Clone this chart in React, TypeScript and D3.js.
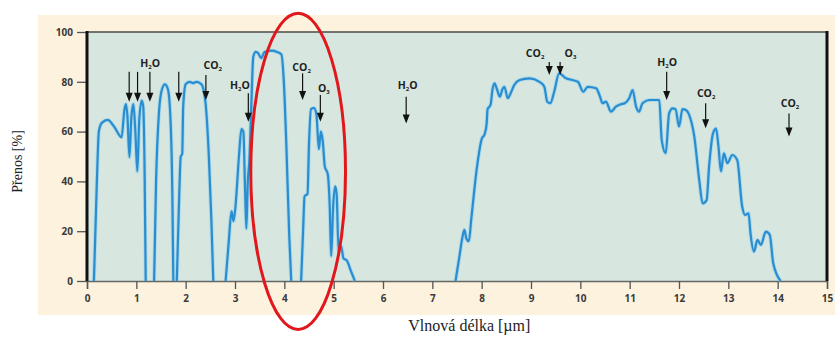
import React, { useEffect, useRef } from "react";
import * as d3 from "d3";

// transmission bands [wavelength um, transmission %]
const band1 = [
  [0.14, 0], [0.2, 40], [0.24, 60], [0.3, 63.5], [0.42, 64.7], [0.55, 62], [0.7, 57.7],
  [0.76, 69], [0.79, 71], [0.82, 66], [0.86, 49.7], [0.9, 66], [0.94, 71], [0.98, 60],
  [1.02, 44], [1.06, 65], [1.11, 72.5], [1.14, 70], [1.17, 40], [1.19, 0],
];
const band2 = [
  [1.36, 0], [1.4, 40], [1.46, 68], [1.52, 77], [1.58, 79], [1.64, 77], [1.69, 66],
  [1.73, 35], [1.75, 0],
];
const band3 = [
  [1.82, 0], [1.87, 35], [1.9, 50], [1.93, 51], [1.95, 70], [2.0, 79], [2.08, 80],
  [2.15, 79.5], [2.22, 80], [2.32, 79], [2.4, 72], [2.47, 50], [2.52, 25], [2.56, 0],
];
const band4 = [
  [2.81, 0], [2.87, 15], [2.93, 28], [2.97, 24], [3.01, 30], [3.08, 50], [3.13, 61],
  [3.17, 60], [3.2, 40], [3.23, 21], [3.26, 40], [3.29, 48], [3.33, 70], [3.37, 90],
  [3.42, 92], [3.47, 91.5], [3.53, 89.5], [3.6, 92], [3.75, 92.5], [3.85, 92],
  [3.94, 91], [3.99, 80], [4.04, 55], [4.1, 18], [4.14, 0],
];
const band5 = [
  [4.34, 0], [4.38, 20], [4.41, 34], [4.47, 35], [4.5, 55], [4.54, 69], [4.6, 69.5],
  [4.65, 67], [4.7, 53], [4.74, 60], [4.78, 56], [4.82, 46], [4.88, 43], [4.92, 30],
  [4.95, 10], [4.99, 30], [5.03, 38], [5.06, 35], [5.1, 12], [5.15, 14], [5.2, 9],
  [5.26, 8.4], [5.35, 4], [5.43, 0],
];
const band6 = [
  [7.47, 0], [7.55, 10], [7.6, 16.5], [7.65, 20.5], [7.69, 17], [7.74, 16], [7.79, 25],
  [7.9, 45], [8.0, 57], [8.06, 59], [8.1, 63], [8.12, 69], [8.18, 70.7], [8.22, 77],
  [8.26, 79.4], [8.31, 77], [8.37, 74], [8.42, 77], [8.46, 78], [8.53, 73.4], [8.6, 76],
  [8.66, 78.7], [8.77, 80.7], [8.97, 81.4], [9.17, 80], [9.27, 78], [9.33, 72],
  [9.39, 71.4], [9.47, 76], [9.57, 83.4], [9.71, 81.4], [9.84, 80.7], [9.95, 80],
  [10.06, 76], [10.15, 78], [10.32, 77.4], [10.4, 74], [10.45, 71.4], [10.52, 72],
  [10.62, 68], [10.72, 70], [10.82, 71], [10.9, 71.4], [10.99, 73.4], [11.06, 76.7],
  [11.13, 70], [11.19, 68], [11.26, 71.4], [11.4, 72.7], [11.6, 72.7], [11.65, 56.6],
  [11.73, 51.3], [11.8, 67.3], [11.87, 69.3], [11.93, 69], [12.0, 62], [12.07, 69],
  [12.14, 68.7], [12.2, 67], [12.31, 58], [12.41, 40.6], [12.48, 31.2], [12.56, 32.5],
  [12.61, 46], [12.69, 59.3], [12.75, 61.2], [12.8, 54], [12.85, 44], [12.91, 51.3],
  [12.98, 47.3], [13.08, 50.6], [13.18, 48.6], [13.28, 30], [13.34, 26.5], [13.41, 27.2],
  [13.45, 19], [13.52, 11.8], [13.59, 16.5], [13.66, 14.5], [13.76, 19.8], [13.84, 18.5],
  [13.91, 7.1], [14.06, 0],
];
const bands = [band1, band2, band3, band4, band5, band6];

// absorption arrows: [wavelength, top %, tip %]
const arrows = [
  [0.855, 84, 72], [1.025, 84, 72], [1.275, 84, 72], [1.86, 84, 72], [2.41, 82.7, 72.7],
  [3.27, 75.4, 64], [4.37, 83.4, 72.7], [4.73, 74.7, 64], [6.47, 74, 63.3],
  [9.37, 88, 82.7], [9.59, 88, 82.7], [11.75, 84, 72.7], [12.54, 71.4, 61.3],
  [14.23, 67.3, 58],
];
// gas labels: [wavelength, baseline %, base text, subscript, rest, anchor]
const gasLabels = [
  [1.28, 86, "H", "2", "O", "middle"],
  [2.55, 85, "CO", "2", "", "middle"],
  [3.1, 77, "H", "2", "O", "middle"],
  [4.35, 84.5, "CO", "2", "", "middle"],
  [4.8, 76, "O", "3", "", "middle"],
  [6.5, 77, "H", "2", "O", "middle"],
  [9.27, 90, "CO", "2", "", "end"],
  [9.68, 90, "O", "3", "", "start"],
  [11.76, 86.5, "H", "2", "O", "middle"],
  [12.55, 74, "CO", "2", "", "middle"],
  [14.25, 70, "CO", "2", "", "middle"],
];

const xTicks = d3.range(0, 16);
const yTicks = [0, 20, 40, 60, 80, 100];

const W = 835;
const H = 338;

export default function App() {
  const svgRef = useRef(null);

  useEffect(() => {
    const svg = d3.select(svgRef.current);
    svg.selectAll("*").remove();

    const x = d3.scaleLinear().domain([0, 15]).range([87, 827]);
    const y = d3.scaleLinear().domain([0, 100]).range([281, 32]);
    const tickFont = "'Open Sans', 'DejaVu Sans', sans-serif";
    const serif = "'Liberation Serif', 'Times New Roman', 'DejaVu Serif', serif";

    // beige panel + plot background
    svg.append("rect").attr("x", 38).attr("y", 15).attr("width", W - 38).attr("height", 300).attr("fill", "#fcf2dd");
    svg.append("rect")
      .attr("x", x(0)).attr("y", y(100))
      .attr("width", x(15) - x(0)).attr("height", y(0) - y(100))
      .attr("fill", "#d7e7df");

    // frame
    svg.append("line").attr("x1", x(0)).attr("x2", x(15)).attr("y1", y(100)).attr("y2", y(100))
      .attr("stroke", "#4a4a4a").attr("stroke-width", 1.5);

    // y axis
    const yAxis = svg.append("g").attr("transform", `translate(${x(0)},0)`)
      .call(d3.axisLeft(y).tickValues(yTicks).tickSize(10).tickPadding(4));
    yAxis.select(".domain").remove();
    yAxis.selectAll(".tick line").attr("stroke", "#555").attr("stroke-width", 1.3);
    yAxis.selectAll("text").attr("font-family", tickFont).attr("font-weight", 700)
      .attr("font-size", 10).attr("fill", "#3a3a3a");

    // x axis
    const xAxis = svg.append("g").attr("transform", `translate(0,${y(0)})`)
      .call(d3.axisBottom(x).tickValues(xTicks).tickSize(8).tickPadding(6).tickFormat(d3.format("d")));
    xAxis.select(".domain").attr("stroke", "#666").attr("stroke-width", 1.5);
    xAxis.selectAll(".tick line").attr("stroke", "#555").attr("stroke-width", 1.3);
    xAxis.selectAll("text").attr("font-family", tickFont).attr("font-weight", 700)
      .attr("font-size", 10).attr("fill", "#3a3a3a");

    svg.append("line").attr("x1", x(0)).attr("x2", x(0)).attr("y1", y(100) - 1).attr("y2", y(0))
      .attr("stroke", "#111").attr("stroke-width", 3);
    svg.append("line").attr("x1", x(15)).attr("x2", x(15)).attr("y1", y(100) - 1).attr("y2", y(0))
      .attr("stroke", "#111").attr("stroke-width", 3);

    // transmission curve
    const line = d3.line()
      .x((d) => x(d[0]))
      .y((d) => y(d[1]))
      .curve(d3.curveMonotoneX);

    bands.forEach((b) => {
      svg.append("path").datum(b).attr("d", line).attr("fill", "none")
        .attr("stroke", "#8fd0f2").attr("stroke-width", 4).attr("stroke-opacity", 0.6);
      svg.append("path").datum(b).attr("d", line).attr("fill", "none")
        .attr("stroke", "#2a8dcf").attr("stroke-width", 2.2).attr("stroke-linejoin", "round");
    });

    // arrows
    arrows.forEach(([wl, top, tip]) => {
      const ax = x(wl);
      const yt = y(top);
      const yb = y(tip);
      svg.append("line").attr("x1", ax).attr("x2", ax).attr("y1", yt).attr("y2", yb - 6)
        .attr("stroke", "#111").attr("stroke-width", 1.2);
      svg.append("path")
        .attr("d", `M${ax - 3.5},${yb - 9} L${ax + 3.5},${yb - 9} L${ax},${yb} Z`)
        .attr("fill", "#111");
    });

    // gas labels
    gasLabels.forEach(([wl, pos, base, sub, rest, anchor]) => {
      const t = svg.append("text")
        .attr("x", x(wl)).attr("y", y(pos))
        .attr("text-anchor", anchor)
        .attr("font-family", tickFont).attr("font-weight", 700)
        .attr("font-size", 10.5).attr("fill", "#222");
      t.append("tspan").text(base);
      t.append("tspan").attr("font-size", 6).attr("dy", 2).text(sub);
      if (rest) t.append("tspan").attr("dy", -2).text(rest);
    });

    // highlighted window
    svg.append("ellipse")
      .attr("cx", x(4.28)).attr("cy", y(44))
      .attr("rx", x(4.28) - x(3.32)).attr("ry", y(-19.5) - y(44))
      .attr("fill", "none").attr("stroke", "#e2171c").attr("stroke-width", 3);

    // axis titles
    svg.append("text")
      .attr("transform", `translate(22,${y(48)}) rotate(-90)`)
      .attr("text-anchor", "middle")
      .attr("font-family", serif).attr("font-size", 14).attr("fill", "#222")
      .text("Přenos [%]");
    svg.append("text")
      .attr("x", x(7.75)).attr("y", 331)
      .attr("text-anchor", "middle")
      .attr("font-family", serif).attr("font-size", 16).attr("fill", "#222")
      .text("Vlnová délka [µm]");
  }, []);

  return (
    <div style={{ position: "absolute", left: 0, top: 0, width: W, height: H, background: "#fff" }}>
      <svg ref={svgRef} width={W} height={H} />
    </div>
  );
}
